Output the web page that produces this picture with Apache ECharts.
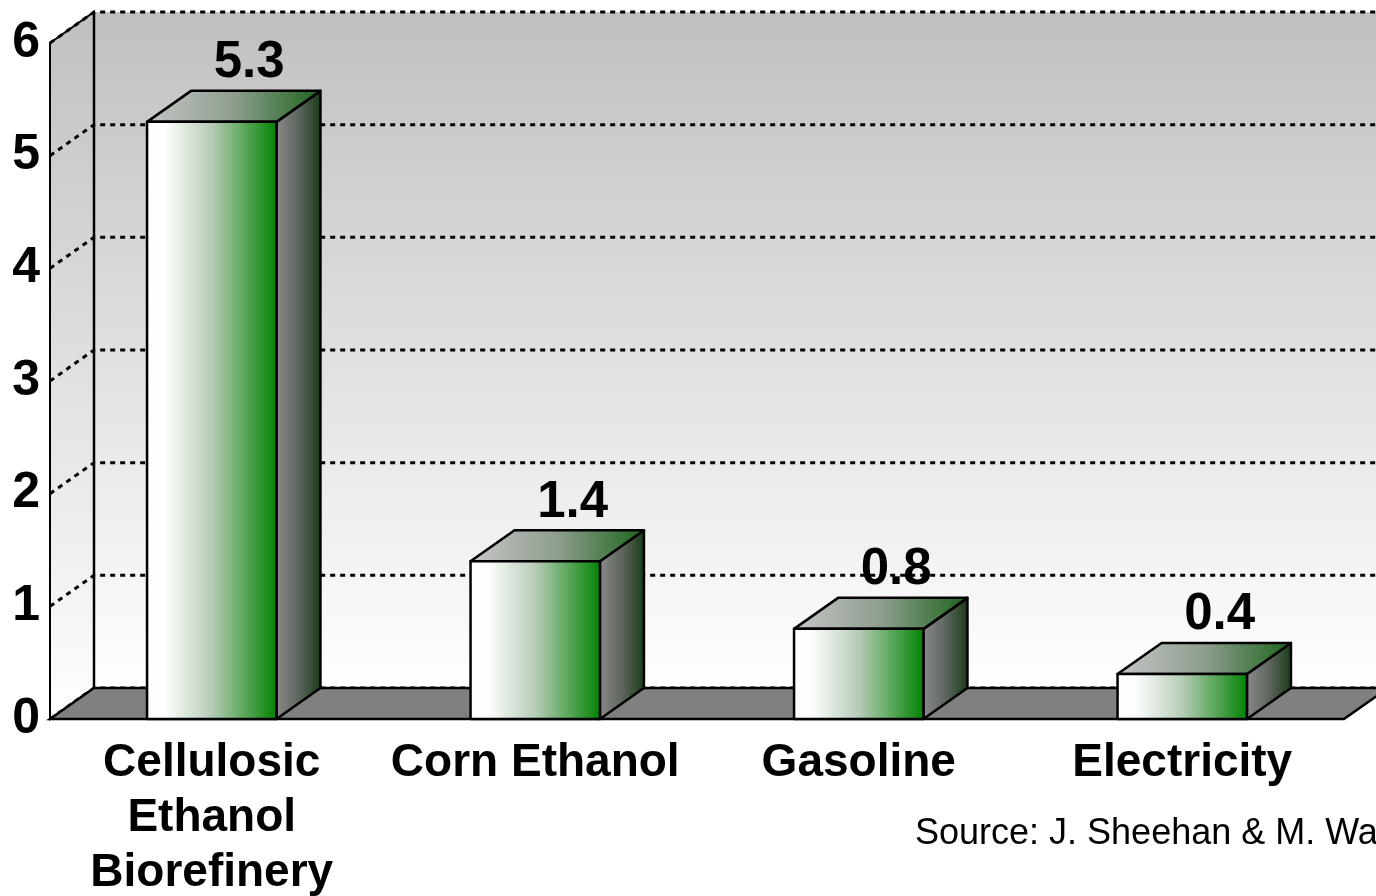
<!DOCTYPE html>
<html>
<head>
<meta charset="utf-8">
<script src="https://cdn.jsdelivr.net/npm/echarts@6/dist/echarts.min.js"></script>
<style>
  html, body { margin: 0; padding: 0; background: #fff; }
  #chart { width: 1376px; height: 896px; }
</style>
</head>
<body>
<div id="chart"></div>
<script>
const categories = ['Cellulosic\nEthanol\nBiorefinery', 'Corn Ethanol', 'Gasoline', 'Electricity'];
const values = [5.3, 1.4, 0.8, 0.4];
const yTicks = [0, 1, 2, 3, 4, 5, 6];
const sourceText = 'Source: J. Sheehan & M. Wang';

// depth of the fake 3d
const DX = 44;
const DY = -31;
const FONT = 'Arial, "Liberation Sans", sans-serif';

const chart = echarts.init(document.getElementById('chart'));

function renderWalls(params, api) {
  const cs = params.coordSys;
  const x0 = cs.x, x1 = cs.x + cs.width;
  const yBase = api.coord([0, 0])[1];
  const yTop = api.coord([0, yTicks[yTicks.length - 1]])[1];
  const children = [];
  const wallGrad = new echarts.graphic.LinearGradient(0, 0, 0, 1, [
    { offset: 0, color: '#c0c0c0' },
    { offset: 1, color: '#ffffff' }
  ]);
  // back wall
  children.push({
    type: 'polygon',
    shape: { points: [[x0 + DX, yTop + DY], [x1 + DX, yTop + DY], [x1 + DX, yBase + DY], [x0 + DX, yBase + DY]] },
    style: { fill: wallGrad, stroke: null }
  });
  // left wall
  children.push({
    type: 'polygon',
    shape: { points: [[x0, yTop], [x0 + DX, yTop + DY], [x0 + DX, yBase + DY], [x0, yBase]] },
    style: { fill: wallGrad, stroke: '#000', lineWidth: 2 }
  });
  // grid lines
  yTicks.forEach(function (t) {
    const y = api.coord([0, t])[1];
    children.push({
      type: 'polyline',
      shape: { points: [[x0, y], [x0 + DX, y + DY], [x1 + DX, y + DY]] },
      style: { fill: null, stroke: '#000', lineWidth: 3, lineDash: [5, 5] }
    });
  });
  // back wall left edge
  children.push({
    type: 'line',
    shape: { x1: x0 + DX, y1: yTop + DY, x2: x0 + DX, y2: yBase + DY },
    style: { stroke: '#000', lineWidth: 2.5 }
  });
  // floor
  children.push({
    type: 'polygon',
    shape: { points: [[x0, yBase], [x0 + DX, yBase + DY], [x1 + DX, yBase + DY], [x1, yBase]] },
    style: { fill: '#808080', stroke: '#000', lineWidth: 2.5 }
  });
  return { type: 'group', children: children };
}

function renderBar(params, api) {
  const idx = api.value(0);
  const val = api.value(1);
  const top = api.coord([idx, val]);
  const base = api.coord([idx, 0]);
  const w = api.size([1, 0])[0] * 0.4;
  const l = top[0] - w / 2, r = top[0] + w / 2;
  const yt = top[1], yb = base[1];
  const edge = { stroke: '#000', lineWidth: 2.5, lineJoin: 'round' };
  return {
    type: 'group',
    children: [
      {
        type: 'polygon',
        shape: { points: [[r, yt], [r + DX, yt + DY], [r + DX, yb + DY], [r, yb]] },
        style: Object.assign({ fill: new echarts.graphic.LinearGradient(0, 0, 1, 0, [
          { offset: 0, color: '#8a8a8a' },
          { offset: 0.5, color: '#5e665e' },
          { offset: 1, color: '#173a17' }
        ]) }, edge)
      },
      {
        type: 'polygon',
        shape: { points: [[l, yt], [l + DX, yt + DY], [r + DX, yt + DY], [r, yt]] },
        style: Object.assign({ fill: new echarts.graphic.LinearGradient(0, 0, 1, 0, [
          { offset: 0, color: '#c6c6c6' },
          { offset: 0.5, color: '#8e9e8e' },
          { offset: 1, color: '#1c641c' }
        ]) }, edge)
      },
      {
        type: 'rect',
        shape: { x: l, y: yt, width: w, height: yb - yt },
        style: Object.assign({ fill: new echarts.graphic.LinearGradient(0, 0, 1, 0, [
          { offset: 0, color: '#ffffff' },
          { offset: 0.15, color: '#fcfdfc' },
          { offset: 0.5, color: '#b6ccb6' },
          { offset: 1, color: '#008200' }
        ]) }, edge)
      },
      {
        type: 'text',
        style: {
          text: String(val),
          x: top[0] + DX * 0.85,
          y: yt + DY - 2,
          align: 'center',
          verticalAlign: 'bottom',
          font: 'bold 51px ' + FONT,
          fill: '#000'
        }
      }
    ]
  };
}

const option = {
  animation: false,
  backgroundColor: '#ffffff',
  grid: { left: 50, right: 32, top: 43, bottom: 177, containLabel: false, outerBoundsMode: 'none' },
  xAxis: {
    type: 'category',
    data: categories,
    axisLine: { show: false },
    axisTick: { show: false },
    axisLabel: {
      interval: 0,
      margin: 17,
      color: '#000',
      fontFamily: FONT,
      fontWeight: 'bold',
      fontSize: 46,
      lineHeight: 55,
      align: 'center',
      hideOverlap: false
    }
  },
  yAxis: {
    type: 'value',
    min: 0,
    max: 6,
    interval: 1,
    axisLine: { show: false },
    axisTick: { show: false },
    splitLine: { show: false },
    axisLabel: {
      margin: 10,
      color: '#000',
      fontFamily: FONT,
      fontWeight: 'bold',
      fontSize: 50
    }
  },
  graphic: [{
    type: 'text',
    left: 915,
    top: 816,
    style: { text: sourceText, font: '36px ' + FONT, fill: '#000' }
  }],
  series: [
    {
      type: 'custom',
      name: 'walls',
      z: 1,
      silent: true,
      data: [[0, 0]],
      renderItem: renderWalls
    },
    {
      type: 'custom',
      name: 'bars',
      z: 2,
      data: values.map(function (v, i) { return [i, v]; }),
      renderItem: renderBar
    }
  ]
};

chart.setOption(option);
</script>
</body>
</html>
